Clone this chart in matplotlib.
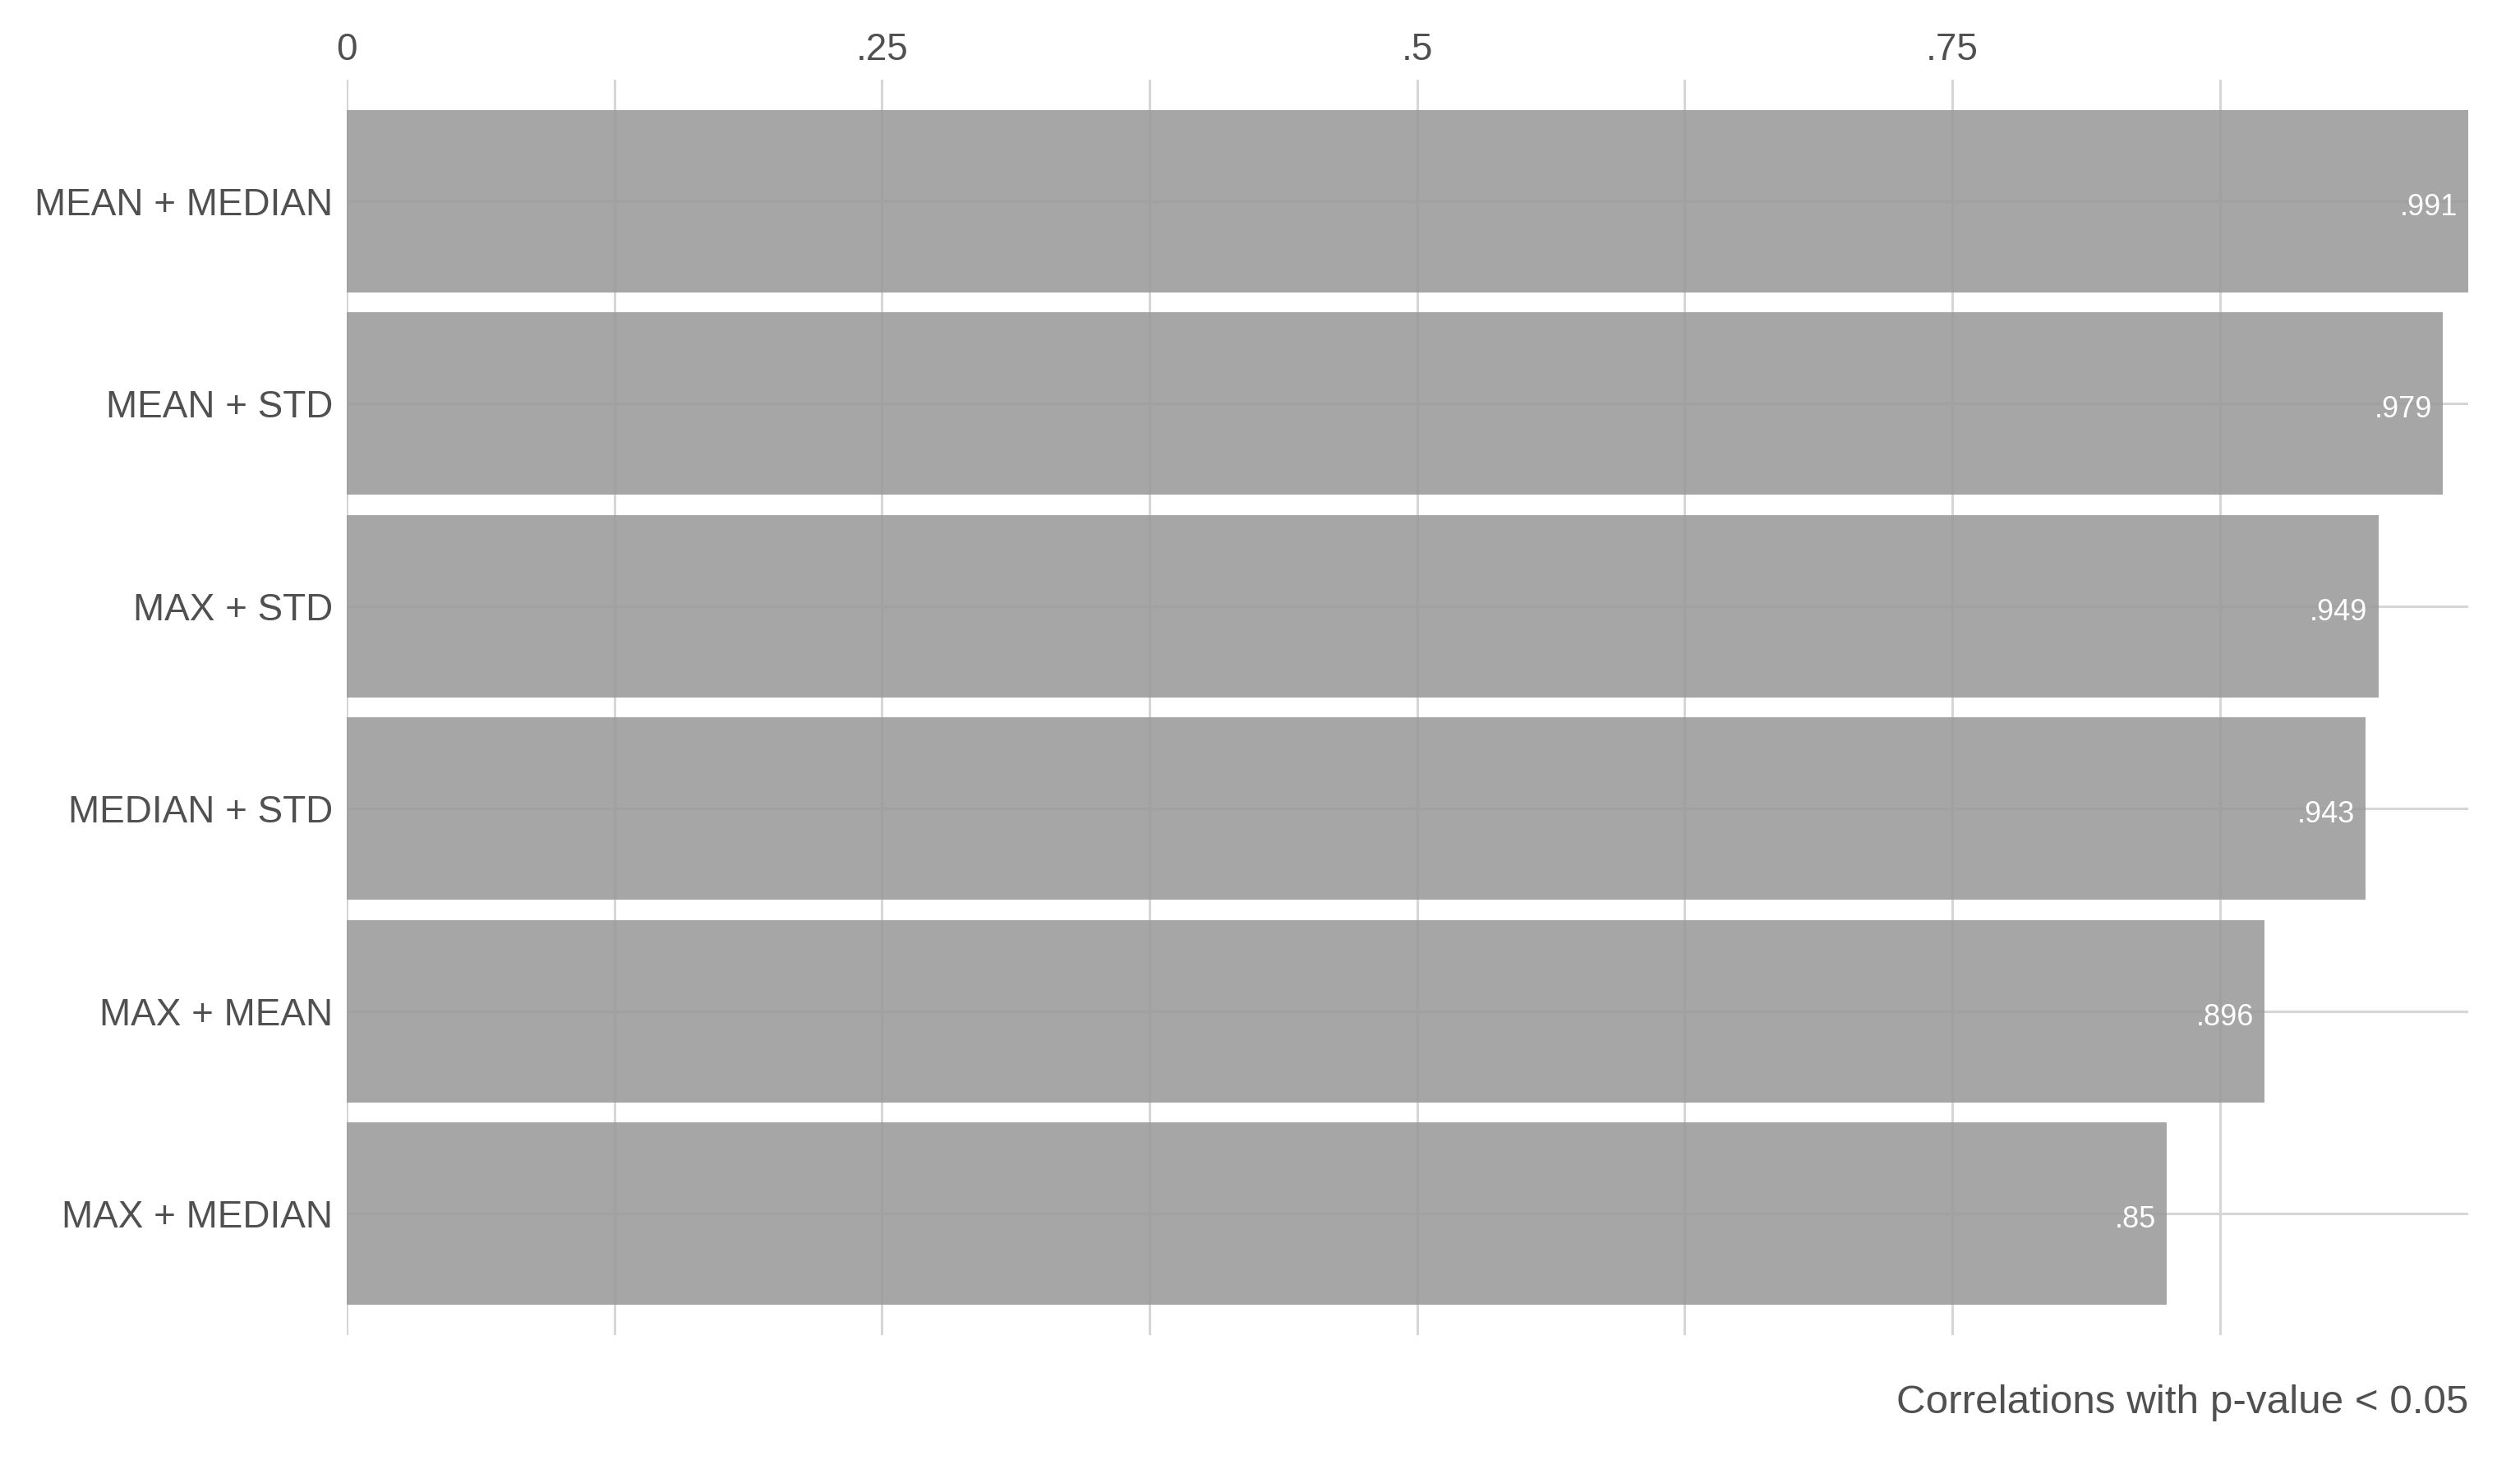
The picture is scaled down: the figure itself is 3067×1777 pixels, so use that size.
import matplotlib
matplotlib.use('Agg')
import matplotlib.pyplot as plt
import numpy as np

plt.rcParams['font.family'] = ['Liberation Sans', 'DejaVu Sans']

pairs = ['MEAN + MEDIAN', 'MEAN + STD', 'MAX + STD', 'MEDIAN + STD', 'MAX + MEAN', 'MAX + MEDIAN']
correlations = [0.991, 0.979, 0.949, 0.943, 0.896, 0.85]
value_labels = ['.991', '.979', '.949', '.943', '.896', '.85']
tick_values = [0, 0.25, 0.5, 0.75]
tick_labels = ['0', '.25', '.5', '.75']
caption = 'Correlations with p-value < 0.05'

text_color = '#505050'
grid_color = '#d6d6d6'

fig = plt.figure(figsize=(15.335, 8.885), dpi=200)
ax = fig.add_axes([422 / 3067, 1 - 1625 / 1777, (3004 - 422) / 3067, (1625 - 97) / 1777])

y = np.arange(len(pairs))
ax.barh(y, correlations, height=0.9, color='#9c9c9c', alpha=0.9, zorder=2)

for yi, v, lab in zip(y, correlations, value_labels):
    ax.text(v - 0.005, yi + 0.03, lab, ha='right', va='center', color='white',
            fontsize=13, zorder=3)

ax.set_xlim(0, max(correlations))
ax.set_ylim(len(pairs) - 0.4, -0.6)

ax.set_yticks(y)
ax.set_yticklabels(pairs)
ax.set_xticks(tick_values)
ax.set_xticklabels(tick_labels)
ax.set_xticks(np.arange(0.125, 1.0, 0.25), minor=True)
ax.xaxis.tick_top()

ax.tick_params(axis='both', which='both', length=0, labelsize=16.5, labelcolor=text_color)
ax.tick_params(axis='x', pad=5)
ax.tick_params(axis='y', pad=6)

ax.grid(True, which='both', axis='x', color=grid_color, linewidth=1.1, zorder=0)
ax.grid(True, which='major', axis='y', color=grid_color, linewidth=1.1, zorder=0)
ax.set_axisbelow(True)
for s in ax.spines.values():
    s.set_visible(False)

fig.text(3004 / 3067, 1 - 1720 / 1777, caption, ha='right', va='baseline',
         fontsize=17.8, color=text_color)

fig.savefig('out.png', dpi=200, facecolor='white')
